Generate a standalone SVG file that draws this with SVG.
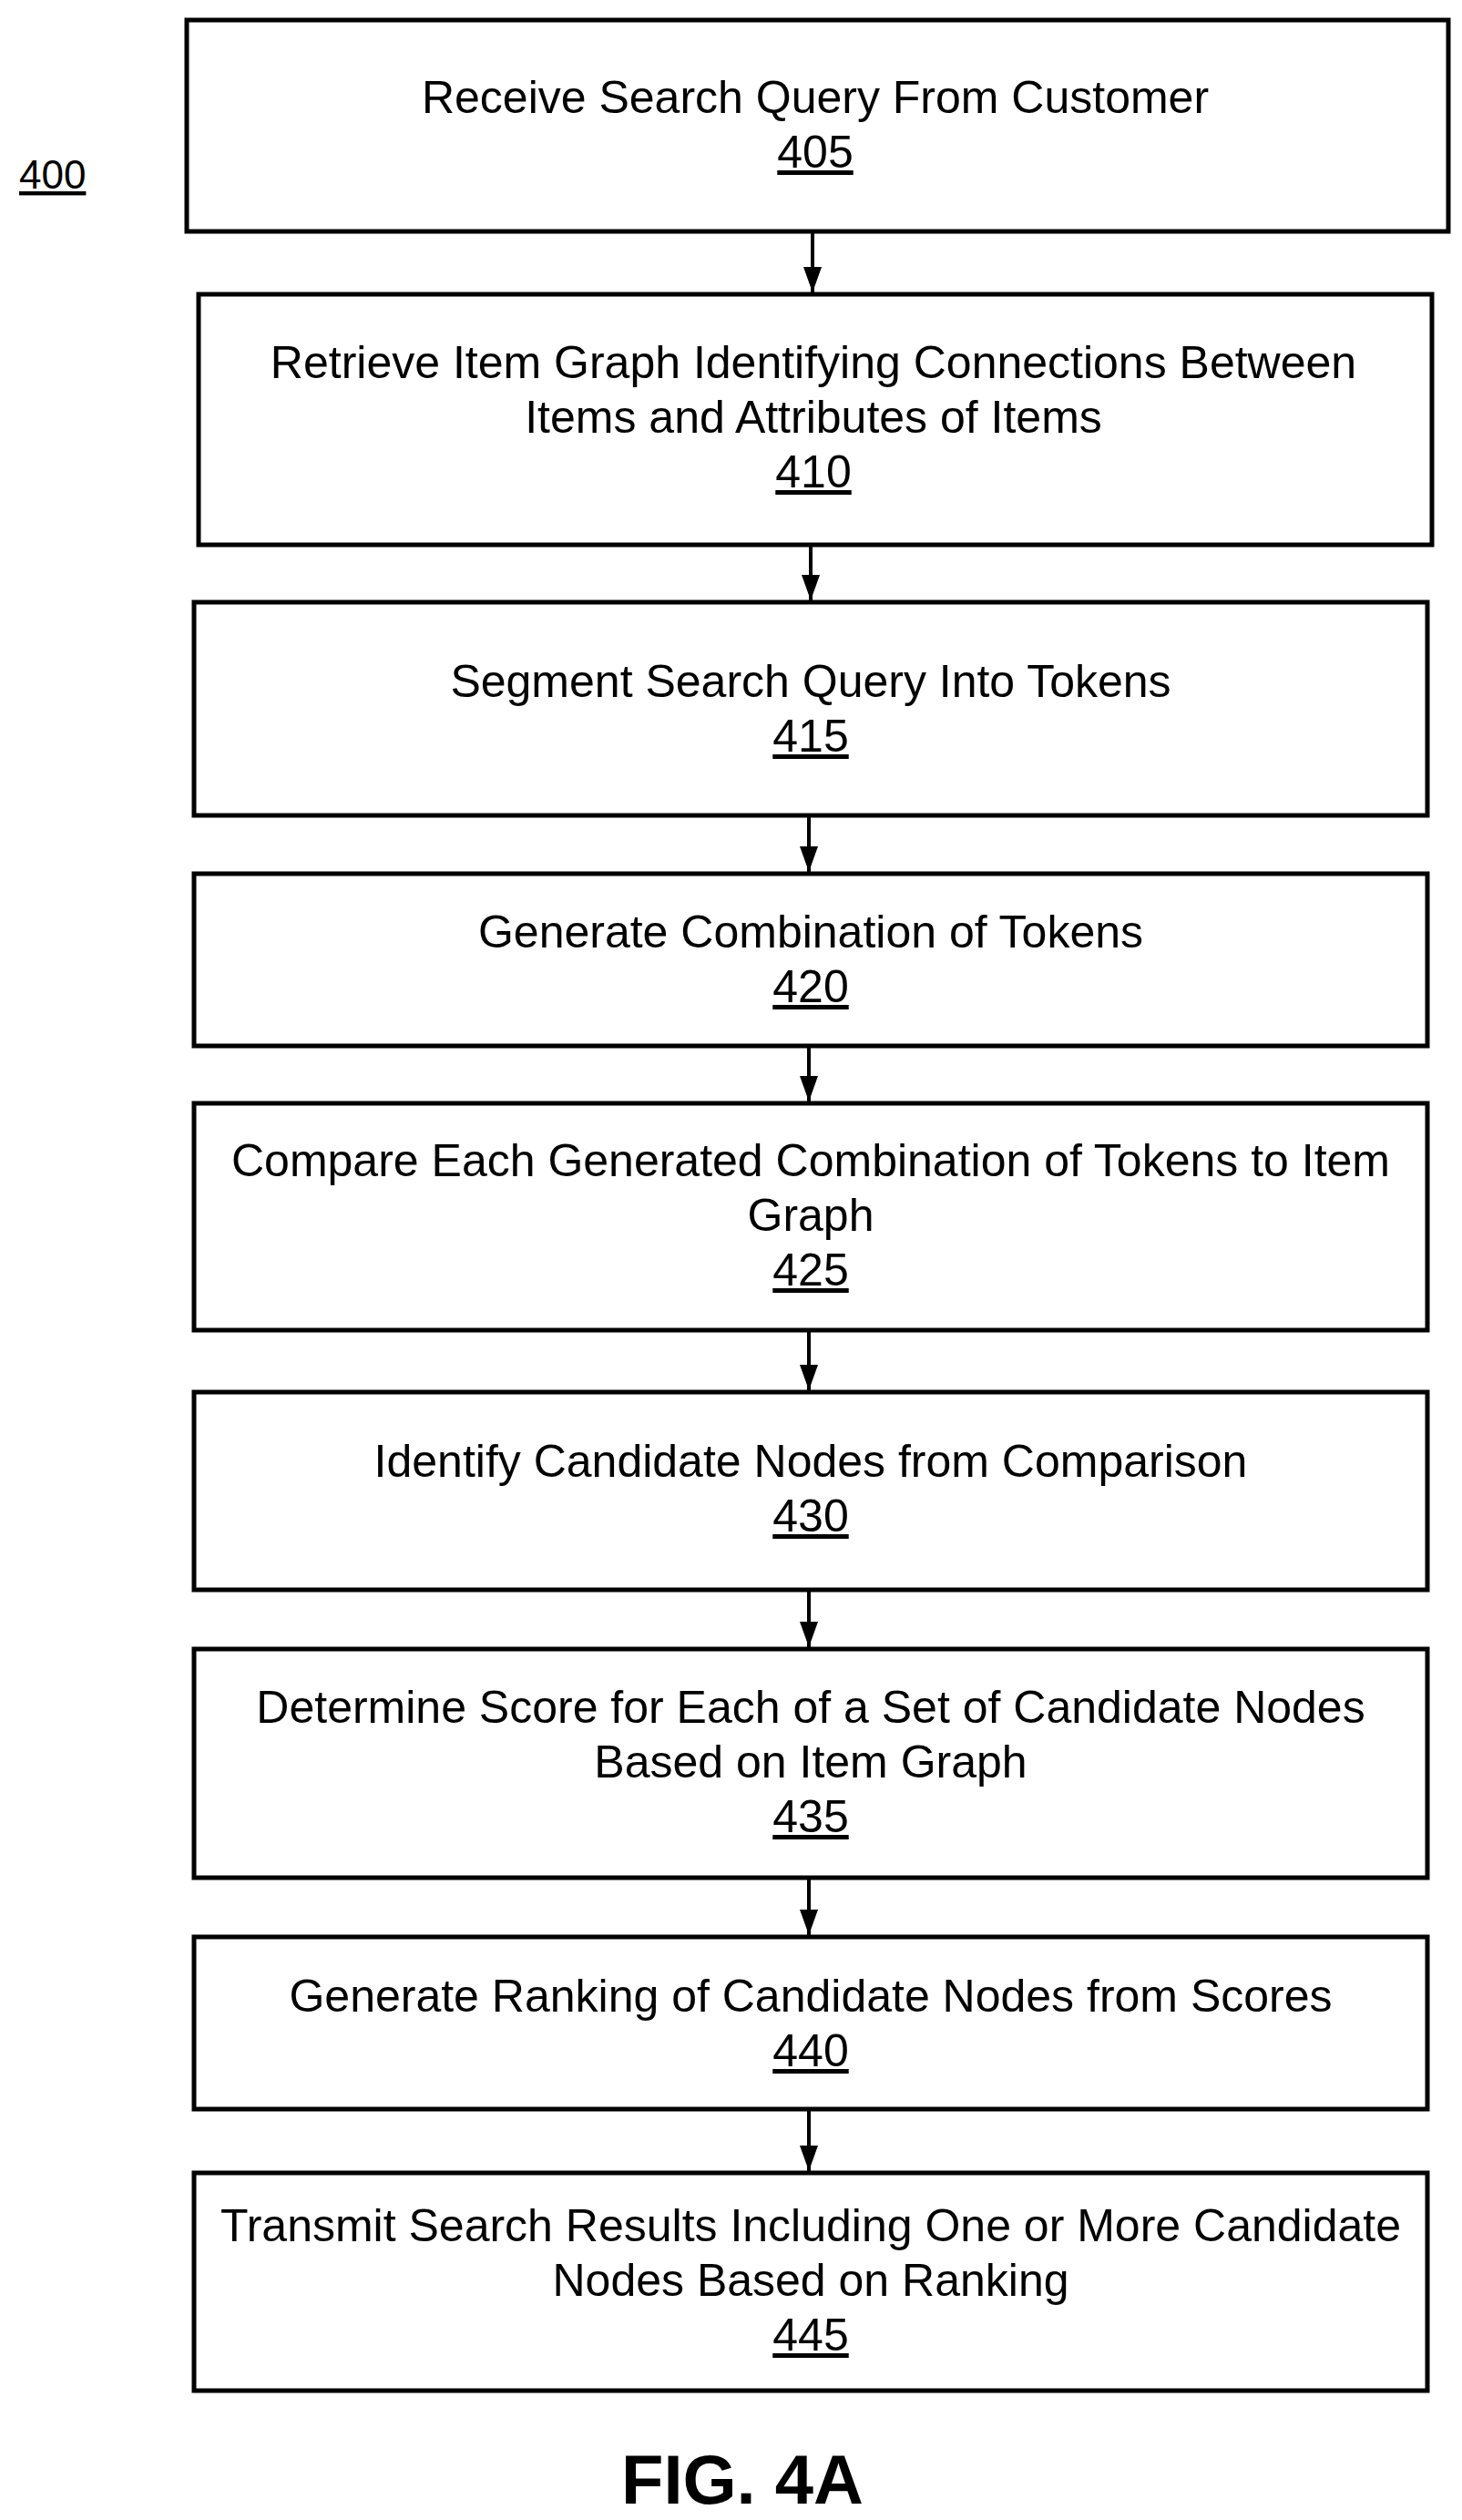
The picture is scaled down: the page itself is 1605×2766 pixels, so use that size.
<svg xmlns="http://www.w3.org/2000/svg" width="1605" height="2766" viewBox="0 0 1605 2766">
<style>
.b{fill:#fff;stroke:#000;stroke-width:5}
.t{font-family:"Liberation Sans",Arial,sans-serif;font-size:50px;text-anchor:middle;fill:#000}
.u{text-decoration:underline}
.c{stroke:#000;stroke-width:4;fill:none;marker-end:url(#a)}
</style>
<defs><marker id="a" markerWidth="28" markerHeight="20" refX="28" refY="10" orient="auto" markerUnits="userSpaceOnUse" viewBox="0 0 28 20"><path d="M0,0 L28,10 L0,20 Z" fill="#000"/></marker></defs>
<rect width="1605" height="2766" fill="#fff"/>
<text x="21" y="207" class="t u" style="text-anchor:start;font-size:44px">400</text>
<g id="connectors">
<line x1="892" y1="254" x2="892" y2="321" class="c"/>
<line x1="890" y1="598" x2="890" y2="659" class="c"/>
<line x1="888" y1="895" x2="888" y2="957" class="c"/>
<line x1="888" y1="1148" x2="888" y2="1209" class="c"/>
<line x1="888" y1="1460" x2="888" y2="1526" class="c"/>
<line x1="888" y1="1745" x2="888" y2="1808" class="c"/>
<line x1="888" y1="2061" x2="888" y2="2124" class="c"/>
<line x1="888" y1="2315" x2="888" y2="2383" class="c"/>
</g>
<g id="n405"><rect x="205" y="22" width="1385" height="232" class="b"/><text x="895" y="124" class="t">Receive Search Query From Customer</text><text x="895" y="184" class="t u">405</text></g>
<g id="n410"><rect x="218" y="323" width="1354" height="275" class="b"/><text x="893" y="415" class="t">Retrieve Item Graph Identifying Connections Between</text><text x="893" y="475" class="t">Items and Attributes of Items</text><text x="893" y="535" class="t u">410</text></g>
<g id="n415"><rect x="213" y="661" width="1354" height="234" class="b"/><text x="890" y="765" class="t">Segment Search Query Into Tokens</text><text x="890" y="825" class="t u">415</text></g>
<g id="n420"><rect x="213" y="959" width="1354" height="189" class="b"/><text x="890" y="1040" class="t">Generate Combination of Tokens</text><text x="890" y="1100" class="t u">420</text></g>
<g id="n425"><rect x="213" y="1211" width="1354" height="249" class="b"/><text x="890" y="1291" class="t">Compare Each Generated Combination of Tokens to Item</text><text x="890" y="1351" class="t">Graph</text><text x="890" y="1411" class="t u">425</text></g>
<g id="n430"><rect x="213" y="1528" width="1354" height="217" class="b"/><text x="890" y="1621" class="t">Identify Candidate Nodes from Comparison</text><text x="890" y="1681" class="t u">430</text></g>
<g id="n435"><rect x="213" y="1810" width="1354" height="251" class="b"/><text x="890" y="1891" class="t">Determine Score for Each of a Set of Candidate Nodes</text><text x="890" y="1951" class="t">Based on Item Graph</text><text x="890" y="2011" class="t u">435</text></g>
<g id="n440"><rect x="213" y="2126" width="1354" height="189" class="b"/><text x="890" y="2208" class="t">Generate Ranking of Candidate Nodes from Scores</text><text x="890" y="2268" class="t u">440</text></g>
<g id="n445"><rect x="213" y="2385" width="1354" height="239" class="b"/><text x="890" y="2460" class="t">Transmit Search Results Including One or More Candidate</text><text x="890" y="2520" class="t">Nodes Based on Ranking</text><text x="890" y="2580" class="t u">445</text></g>
<text x="815" y="2748" class="t" style="font-size:76px;font-weight:bold">FIG. 4A</text>
</svg>
